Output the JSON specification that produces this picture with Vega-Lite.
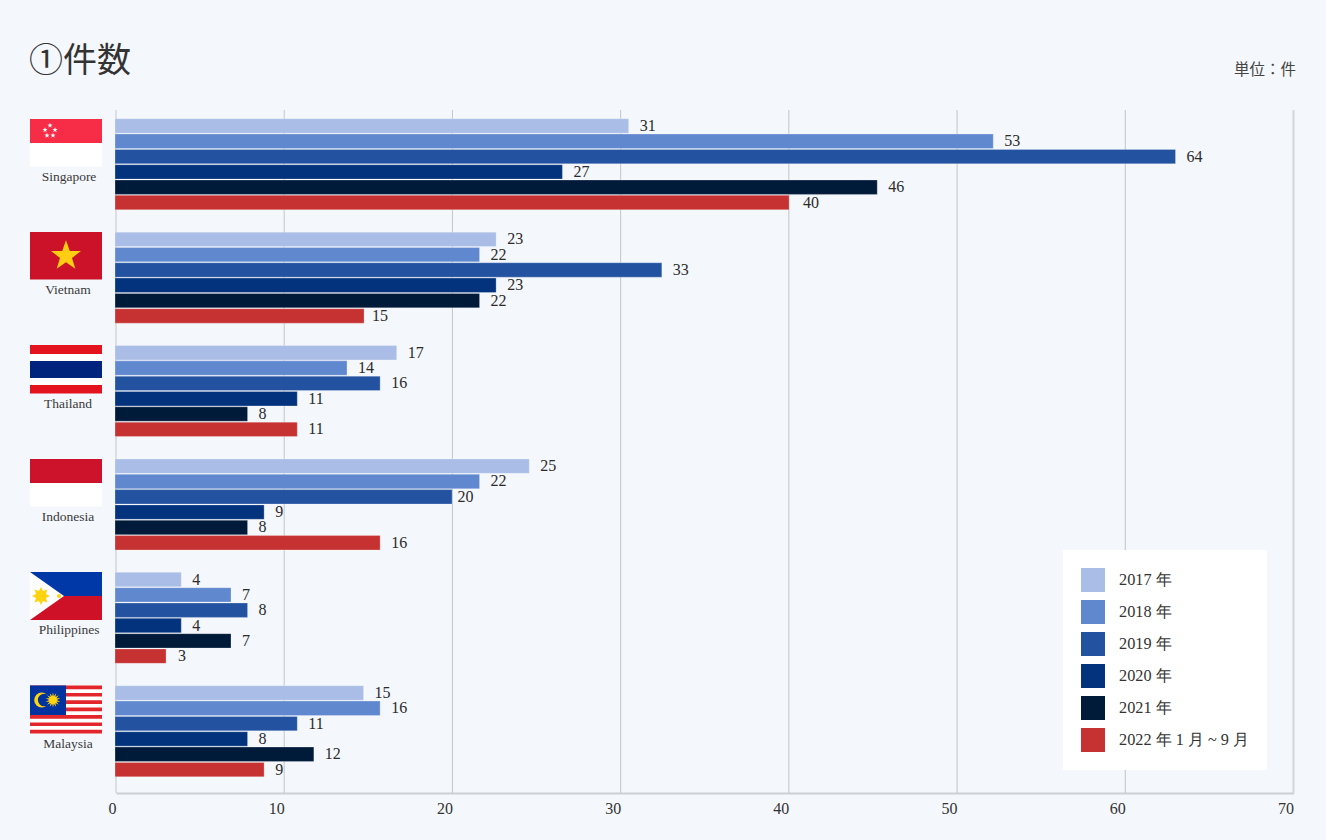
{
"$schema":"https://vega.github.io/schema/vega-lite/v6.json",
"autosize":{"type":"none"},
"padding":{"left":116,"top":110,"right":32.5,"bottom":47},
"width":1177.5,"height":683,
"background":"#f4f7fb",
"config":{"view":{"stroke":null}},
"title":{"text":"①件数","anchor":"start","frame":"group","dx":-87,"dy":52,"offset":36,"font":"Noto Sans CJK JP","fontSize":34,"fontWeight":400,"color":"#333333"},
"datasets":{
"counts":[
{"country":"Singapore","year":"2017 年","n":31,"len":31,"at":31},{"country":"Singapore","year":"2018 年","n":53,"len":53,"at":53},{"country":"Singapore","year":"2019 年","n":64,"len":64,"at":64},{"country":"Singapore","year":"2020 年","n":27,"len":27,"at":27},{"country":"Singapore","year":"2021 年","n":46,"len":46,"at":46},{"country":"Singapore","year":"2022 年 1 月 ~ 9 月","n":40,"len":40.68,"at":40.86},
{"country":"Vietnam","year":"2017 年","n":23,"len":23,"at":23},{"country":"Vietnam","year":"2018 年","n":22,"len":22,"at":22},{"country":"Vietnam","year":"2019 年","n":33,"len":33,"at":33},{"country":"Vietnam","year":"2020 年","n":23,"len":23,"at":23},{"country":"Vietnam","year":"2021 年","n":22,"len":22,"at":22},{"country":"Vietnam","year":"2022 年 1 月 ~ 9 月","n":15,"len":15.03,"at":14.85},
{"country":"Thailand","year":"2017 年","n":17,"len":17,"at":17},{"country":"Thailand","year":"2018 年","n":14,"len":14,"at":14},{"country":"Thailand","year":"2019 年","n":16,"len":16,"at":16},{"country":"Thailand","year":"2020 年","n":11,"len":11,"at":11},{"country":"Thailand","year":"2021 年","n":8,"len":8,"at":8},{"country":"Thailand","year":"2022 年 1 月 ~ 9 月","n":11,"len":11,"at":11},
{"country":"Indonesia","year":"2017 年","n":25,"len":25,"at":25},{"country":"Indonesia","year":"2018 年","n":22,"len":22,"at":22},{"country":"Indonesia","year":"2019 年","n":20,"len":20.34,"at":20},{"country":"Indonesia","year":"2020 年","n":9,"len":9,"at":9},{"country":"Indonesia","year":"2021 年","n":8,"len":8,"at":8},{"country":"Indonesia","year":"2022 年 1 月 ~ 9 月","n":16,"len":16,"at":16},
{"country":"Philippines","year":"2017 年","n":4,"len":4,"at":4},{"country":"Philippines","year":"2018 年","n":7,"len":7,"at":7},{"country":"Philippines","year":"2019 年","n":8,"len":8,"at":8},{"country":"Philippines","year":"2020 年","n":4,"len":4,"at":4},{"country":"Philippines","year":"2021 年","n":7,"len":7,"at":7},{"country":"Philippines","year":"2022 年 1 月 ~ 9 月","n":3,"len":3.08,"at":3.14},
{"country":"Malaysia","year":"2017 年","n":15,"len":15,"at":15},{"country":"Malaysia","year":"2018 年","n":16,"len":16,"at":16},{"country":"Malaysia","year":"2019 年","n":11,"len":11,"at":11},{"country":"Malaysia","year":"2020 年","n":8,"len":8,"at":8},{"country":"Malaysia","year":"2021 年","n":12,"len":12,"at":12},{"country":"Malaysia","year":"2022 年 1 月 ~ 9 月","n":9,"len":9,"at":9}
],
"ticks":[{"tick":0},{"tick":10},{"tick":20},{"tick":30},{"tick":40},{"tick":50},{"tick":60},{"tick":70}],
"flagParts":[
{"tone":"white","x0":30,"x1":102,"y0":143,"y1":166.5},{"tone":"sgRed","x0":30,"x1":102,"y0":119,"y1":143},
{"tone":"vnRed","x0":30,"x1":102,"y0":232,"y1":279.5},
{"tone":"white","x0":30,"x1":102,"y0":354,"y1":385},{"tone":"thRed","x0":30,"x1":102,"y0":345,"y1":354},{"tone":"thBlue","x0":30,"x1":102,"y0":361,"y1":378},{"tone":"thRed","x0":30,"x1":102,"y0":385,"y1":393.5},
{"tone":"idRed","x0":30,"x1":102,"y0":459,"y1":483},{"tone":"white","x0":30,"x1":102,"y0":483,"y1":506.5},
{"tone":"phBlue","x0":30,"x1":102,"y0":572,"y1":596},{"tone":"phRed","x0":30,"x1":102,"y0":596,"y1":620},
{"tone":"white","x0":30,"x1":102,"y0":685.5,"y1":733.5},
{"tone":"myRed","x0":30,"x1":102,"y0":685.5,"y1":689.2},{"tone":"myRed","x0":30,"x1":102,"y0":692.9,"y1":696.6},{"tone":"myRed","x0":30,"x1":102,"y0":700.3,"y1":703.9},{"tone":"myRed","x0":30,"x1":102,"y0":707.6,"y1":711.3},{"tone":"myRed","x0":30,"x1":102,"y0":715,"y1":718.7},{"tone":"myRed","x0":30,"x1":102,"y0":722.4,"y1":726.1},{"tone":"myRed","x0":30,"x1":102,"y0":729.8,"y1":733.5},
{"tone":"myBlue","x0":30,"x1":66,"y0":685.5,"y1":715}
],
"emblems":[
{"kind":"sgStar","x":50,"y":125.5},{"kind":"sgStar","x":45,"y":130},{"kind":"sgStar","x":55,"y":130},{"kind":"sgStar","x":47,"y":135.5},{"kind":"sgStar","x":53,"y":135.5},
{"kind":"vnStar","x":66,"y":256},
{"kind":"phTriangle","x":47,"y":596},{"kind":"phSun","x":41,"y":596},{"kind":"phDot","x":59,"y":596},
{"kind":"myCrescent","x":41.7,"y":700},{"kind":"myCover","x":44.2,"y":700},{"kind":"mySun","x":53,"y":700}
],
"notes":[
{"text":"Singapore","x":69,"y":177},{"text":"Vietnam","x":68,"y":290},{"text":"Thailand","x":68,"y":404},{"text":"Indonesia","x":68,"y":517},{"text":"Philippines","x":69,"y":630},{"text":"Malaysia","x":68,"y":744}
],
"unit":[{"text":"単位\uFF1A件","x":1296,"y":70}]
},
"resolve":{"scale":{"x":"independent","y":"independent","color":"independent"},"axis":{"x":"independent","y":"independent"}},
"layer":[
{"data":{"name":"ticks"},"mark":{"type":"rule"},
 "encoding":{
  "x":{"field":"tick","type":"quantitative","scale":{"domain":[0,70],"nice":false,"zero":false},
   "axis":{"title":null,"values":[0,10,20,30,40,50,60,70],"format":"d","grid":false,"ticks":false,"domain":true,"domainColor":"#ccd0d5","domainWidth":2,"labelFont":"Liberation Serif","labelFontSize":16,"labelColor":"#333333","labelAlign":"right","labelPadding":7,"labelBound":false,"labelFlush":false,"labelOverlap":false}},
  "color":{"condition":{"test":"datum.tick===70","value":"#d2d5d9"},"value":"#c2c5c9"},
  "strokeWidth":{"condition":{"test":"datum.tick===70","value":2},"value":1}
 }},
{"data":{"name":"flagParts"},"mark":{"type":"rect"},
 "encoding":{
  "x":{"field":"x0","type":"quantitative","scale":{"domain":[116,1293.5],"nice":false,"zero":false},"axis":null},
  "x2":{"field":"x1"},
  "y":{"field":"y0","type":"quantitative","scale":{"domain":[110,793],"reverse":true,"nice":false,"zero":false},"axis":null},
  "y2":{"field":"y1"},
  "color":{"field":"tone","type":"nominal","legend":null,"scale":{"domain":["white","sgRed","vnRed","thRed","thBlue","idRed","phBlue","phRed","myRed","myBlue"],"range":["#ffffff","#f72c47","#cb1228","#e3141e","#00237d","#cd132b","#0038a8","#ce1126","#e3262b","#0033a0"]}}
 }},
{"data":{"name":"emblems"},"transform":[{"filter":"datum.kind==='sgStar'"}],"mark":{"type":"point","shape":"M0,-1L0.24,-0.32L0.95,-0.31L0.38,0.12L0.59,0.81L0,0.4L-0.59,0.81L-0.38,0.12L-0.95,-0.31L-0.24,-0.32Z","filled":true,"opacity":1,"fill":"#ffffff","size":30,"strokeWidth":0},
 "encoding":{"x":{"field":"x","type":"quantitative","scale":{"domain":[116,1293.5],"nice":false,"zero":false},"axis":null},"y":{"field":"y","type":"quantitative","scale":{"domain":[110,793],"reverse":true,"nice":false,"zero":false},"axis":null}}},
{"data":{"name":"emblems"},"transform":[{"filter":"datum.kind==='vnStar'"}],"mark":{"type":"point","shape":"M0,-1L0.24,-0.32L0.95,-0.31L0.38,0.12L0.59,0.81L0,0.4L-0.59,0.81L-0.38,0.12L-0.95,-0.31L-0.24,-0.32Z","filled":true,"opacity":1,"fill":"#ffcd12","size":1000,"strokeWidth":0},
 "encoding":{"x":{"field":"x","type":"quantitative","scale":{"domain":[116,1293.5],"nice":false,"zero":false},"axis":null},"y":{"field":"y","type":"quantitative","scale":{"domain":[110,793],"reverse":true,"nice":false,"zero":false},"axis":null}}},
{"data":{"name":"emblems"},"transform":[{"filter":"datum.kind==='phTriangle'"}],"mark":{"type":"point","shape":"M-0.708,-1L0.708,0L-0.708,1Z","filled":true,"opacity":1,"fill":"#ffffff","size":2304,"strokeWidth":0},
 "encoding":{"x":{"field":"x","type":"quantitative","scale":{"domain":[116,1293.5],"nice":false,"zero":false},"axis":null},"y":{"field":"y","type":"quantitative","scale":{"domain":[110,793],"reverse":true,"nice":false,"zero":false},"axis":null}}},
{"data":{"name":"emblems"},"transform":[{"filter":"datum.kind==='phSun'"}],"mark":{"type":"point","shape":"M0,-1L.23,-.55L.71,-.71L.55,-.23L1,0L.55,.23L.71,.71L.23,.55L0,1L-.23,.55L-.71,.71L-.55,.23L-1,0L-.55,-.23L-.71,-.71L-.23,-.55Z","filled":true,"opacity":1,"fill":"#ffd30f","size":324,"strokeWidth":0},
 "encoding":{"x":{"field":"x","type":"quantitative","scale":{"domain":[116,1293.5],"nice":false,"zero":false},"axis":null},"y":{"field":"y","type":"quantitative","scale":{"domain":[110,793],"reverse":true,"nice":false,"zero":false},"axis":null}}},
{"data":{"name":"emblems"},"transform":[{"filter":"datum.kind==='phDot'"}],"mark":{"type":"point","shape":"circle","filled":true,"opacity":1,"fill":"#ffd30f","size":16,"strokeWidth":0},
 "encoding":{"x":{"field":"x","type":"quantitative","scale":{"domain":[116,1293.5],"nice":false,"zero":false},"axis":null},"y":{"field":"y","type":"quantitative","scale":{"domain":[110,793],"reverse":true,"nice":false,"zero":false},"axis":null}}},
{"data":{"name":"emblems"},"transform":[{"filter":"datum.kind==='myCrescent'"}],"mark":{"type":"point","shape":"circle","filled":true,"opacity":1,"fill":"#ffd30f","size":225,"strokeWidth":0},
 "encoding":{"x":{"field":"x","type":"quantitative","scale":{"domain":[116,1293.5],"nice":false,"zero":false},"axis":null},"y":{"field":"y","type":"quantitative","scale":{"domain":[110,793],"reverse":true,"nice":false,"zero":false},"axis":null}}},
{"data":{"name":"emblems"},"transform":[{"filter":"datum.kind==='myCover'"}],"mark":{"type":"point","shape":"circle","filled":true,"opacity":1,"fill":"#0033a0","size":160,"strokeWidth":0},
 "encoding":{"x":{"field":"x","type":"quantitative","scale":{"domain":[116,1293.5],"nice":false,"zero":false},"axis":null},"y":{"field":"y","type":"quantitative","scale":{"domain":[110,793],"reverse":true,"nice":false,"zero":false},"axis":null}}},
{"data":{"name":"emblems"},"transform":[{"filter":"datum.kind==='mySun'"}],"mark":{"type":"point","shape":"M0,-1L.111,-.487L.434,-.901L.312,-.391L.782,-.623L.451,-.217L.975,-.223L.5,0L.975,.223L.451,.217L.782,.623L.312,.391L.434,.901L.111,.487L0,1L-.111,.487L-.434,.901L-.312,.391L-.782,.623L-.451,.217L-.975,.223L-.5,0L-.975,-.223L-.451,-.217L-.782,-.623L-.312,-.391L-.434,-.901L-.111,-.487Z","filled":true,"opacity":1,"fill":"#ffd30f","size":225,"strokeWidth":0},
 "encoding":{"x":{"field":"x","type":"quantitative","scale":{"domain":[116,1293.5],"nice":false,"zero":false},"axis":null},"y":{"field":"y","type":"quantitative","scale":{"domain":[110,793],"reverse":true,"nice":false,"zero":false},"axis":null}}},
{"data":{"name":"notes"},"mark":{"type":"text","align":"center","baseline":"middle","font":"Liberation Serif","fontSize":13.5,"color":"#3a3a3a"},
 "encoding":{"text":{"field":"text"},"x":{"field":"x","type":"quantitative","scale":{"domain":[116,1293.5],"nice":false,"zero":false},"axis":null},"y":{"field":"y","type":"quantitative","scale":{"domain":[110,793],"reverse":true,"nice":false,"zero":false},"axis":null}}},
{"data":{"name":"unit"},"mark":{"type":"text","align":"right","baseline":"middle","font":"Noto Sans CJK JP","fontSize":15.5,"color":"#444444"},
 "encoding":{"text":{"field":"text"},"x":{"field":"x","type":"quantitative","scale":{"domain":[116,1293.5],"nice":false,"zero":false},"axis":null},"y":{"field":"y","type":"quantitative","scale":{"domain":[110,793],"reverse":true,"nice":false,"zero":false},"axis":null}}},
{"data":{"name":"counts"},"mark":{"type":"bar","stroke":"#ffffff","strokeWidth":0.5,"strokeOpacity":0.5},
 "encoding":{
  "y":{"field":"country","type":"nominal","axis":null,"sort":null,"scale":{"domain":["Singapore","Vietnam","Thailand","Indonesia","Philippines","Malaysia"],"paddingInner":0.1975,"paddingOuter":0.11,"align":0.35}},
  "yOffset":{"field":"year","type":"nominal","sort":null,"scale":{"domain":["2017 年","2018 年","2019 年","2020 年","2021 年","2022 年 1 月 ~ 9 月"],"paddingInner":0.06,"paddingOuter":0}},
  "x":{"field":"len","type":"quantitative","stack":null,"axis":null,"scale":{"domain":[0.06,71.12],"nice":false,"zero":false}},
  "x2":{"datum":0},
  "color":{"field":"year","type":"nominal","sort":null,"scale":{"domain":["2017 年","2018 年","2019 年","2020 年","2021 年","2022 年 1 月 ~ 9 月"],"range":["#a9bde6","#6088cf","#2352a1","#04337d","#001a3a","#c63232"]},
   "legend":{"title":null,"orient":"none","legendX":947,"legendY":440,"fillColor":"#ffffff","padding":18,"symbolType":"square","symbolSize":576,"symbolStrokeWidth":0,"symbolOpacity":1,"labelFont":"Liberation Serif","labelFontSize":16.25,"labelColor":"#333333","labelOffset":14,"labelLimit":300,"rowPadding":8,"clipHeight":24}}
 }},
{"data":{"name":"counts"},"mark":{"type":"text","align":"left","baseline":"middle","dx":11,"font":"Liberation Serif","fontSize":16,"color":"#2b2b2b"},
 "encoding":{
  "y":{"field":"country","type":"nominal","axis":null,"sort":null,"scale":{"domain":["Singapore","Vietnam","Thailand","Indonesia","Philippines","Malaysia"],"paddingInner":0.1975,"paddingOuter":0.11,"align":0.35}},
  "yOffset":{"field":"year","type":"nominal","sort":null,"scale":{"domain":["2017 年","2018 年","2019 年","2020 年","2021 年","2022 年 1 月 ~ 9 月"],"paddingInner":0.06,"paddingOuter":0}},
  "x":{"field":"at","type":"quantitative","axis":null,"scale":{"domain":[0.06,71.12],"nice":false,"zero":false}},
  "text":{"field":"n","type":"quantitative"}
 }}
]
}
